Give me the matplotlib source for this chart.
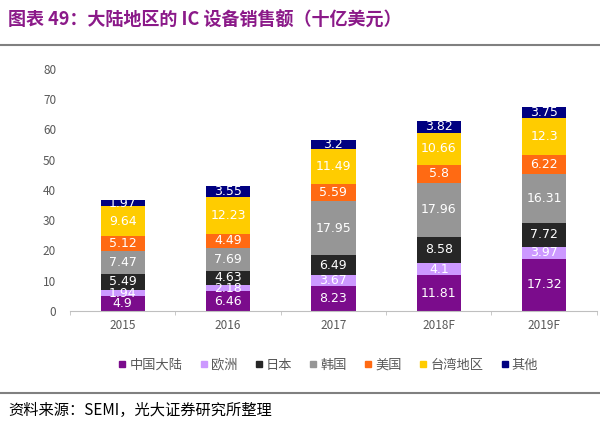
import numpy as np
import matplotlib
matplotlib.use("Agg")
import matplotlib.pyplot as plt
from matplotlib.lines import Line2D

plt.rcParams['font.family'] = ['Noto Sans CJK SC', 'DejaVu Sans']

years = ["2015", "2016", "2017", "2018F", "2019F"]
regions = ["中国大陆", "欧洲", "日本", "韩国", "美国", "台湾地区", "其他"]

china = [4.9, 6.46, 8.23, 11.81, 17.32]
europe = [1.94, 2.18, 3.67, 4.1, 3.97]
japan = [5.49, 4.63, 6.49, 8.58, 7.72]
korea = [7.47, 7.69, 17.95, 17.96, 16.31]
usa = [5.12, 4.49, 5.59, 5.8, 6.22]
taiwan = [9.64, 12.23, 11.49, 10.66, 12.3]
other = [1.97, 3.55, 3.2, 3.82, 3.75]

series = [china, europe, japan, korea, usa, taiwan, other]
colors = ["#7B0C8C", "#CC99FF", "#262626", "#969696", "#FF6A13", "#FFCC00", "#000080"]

fig = plt.figure(figsize=(6, 4.33), dpi=100)
ax = fig.add_axes([0.1167, 0.2818, 0.878, 0.5589])

x = np.arange(len(years))
bottom = np.zeros(len(years))
for vals, col, name in zip(series, colors, regions):
    vals = np.array(vals)
    ax.bar(x, vals, 0.42, bottom=bottom, color=col, label=name, zorder=2)
    for xi, b, v in zip(x, bottom, vals):
        ax.text(xi, b + v / 2, "{:g}".format(v), ha='center', va='center',
                color='white', fontsize=9, family=['DejaVu Sans'], zorder=3)
    bottom += vals

ax.set_xlim(-0.5, len(years) - 0.5)
ax.set_ylim(0, 80)
ax.set_yticks(range(0, 81, 10))
ax.set_xticks(x)
ax.set_xticklabels(years)
ax.set_xticks(np.arange(-0.5, len(years)), minor=True)
for s in ['top', 'right', 'left']:
    ax.spines[s].set_visible(False)
ax.spines['bottom'].set_color('#BFBFBF')
ax.tick_params(axis='y', length=0, labelsize=8.5, labelcolor='#595959', pad=10)
ax.tick_params(axis='x', which='major', length=0, labelsize=8.5, labelcolor='#595959', pad=6)
ax.tick_params(axis='x', which='minor', length=3, color='#BFBFBF')

handles = [Line2D([], [], marker='s', linestyle='', markersize=5, color=c) for c in colors]
fig.legend(handles, regions, loc='center', bbox_to_anchor=(0.545, 0.157), ncol=7,
           frameon=False, fontsize=9.5, handletextpad=0.05, columnspacing=1.1,
           handlelength=1.0, labelcolor='#595959')

fig.text(0.013, 0.953, "图表 49：大陆地区的 IC 设备销售额（十亿美元）", color='#8B1A89',
         fontsize=13, fontweight='bold', va='center', ha='left')
fig.add_artist(Line2D([0.0, 1.0], [0.897, 0.897], color='#808080', linewidth=1.5,
                      transform=fig.transFigure))
fig.add_artist(Line2D([0.0, 1.0], [0.092, 0.092], color='#808080', linewidth=1.5,
                      transform=fig.transFigure))
fig.text(0.013, 0.053, "资料来源：SEMI，光大证券研究所整理", color='black',
         fontsize=11, va='center', ha='left')

fig.savefig("out.png", dpi=100)
